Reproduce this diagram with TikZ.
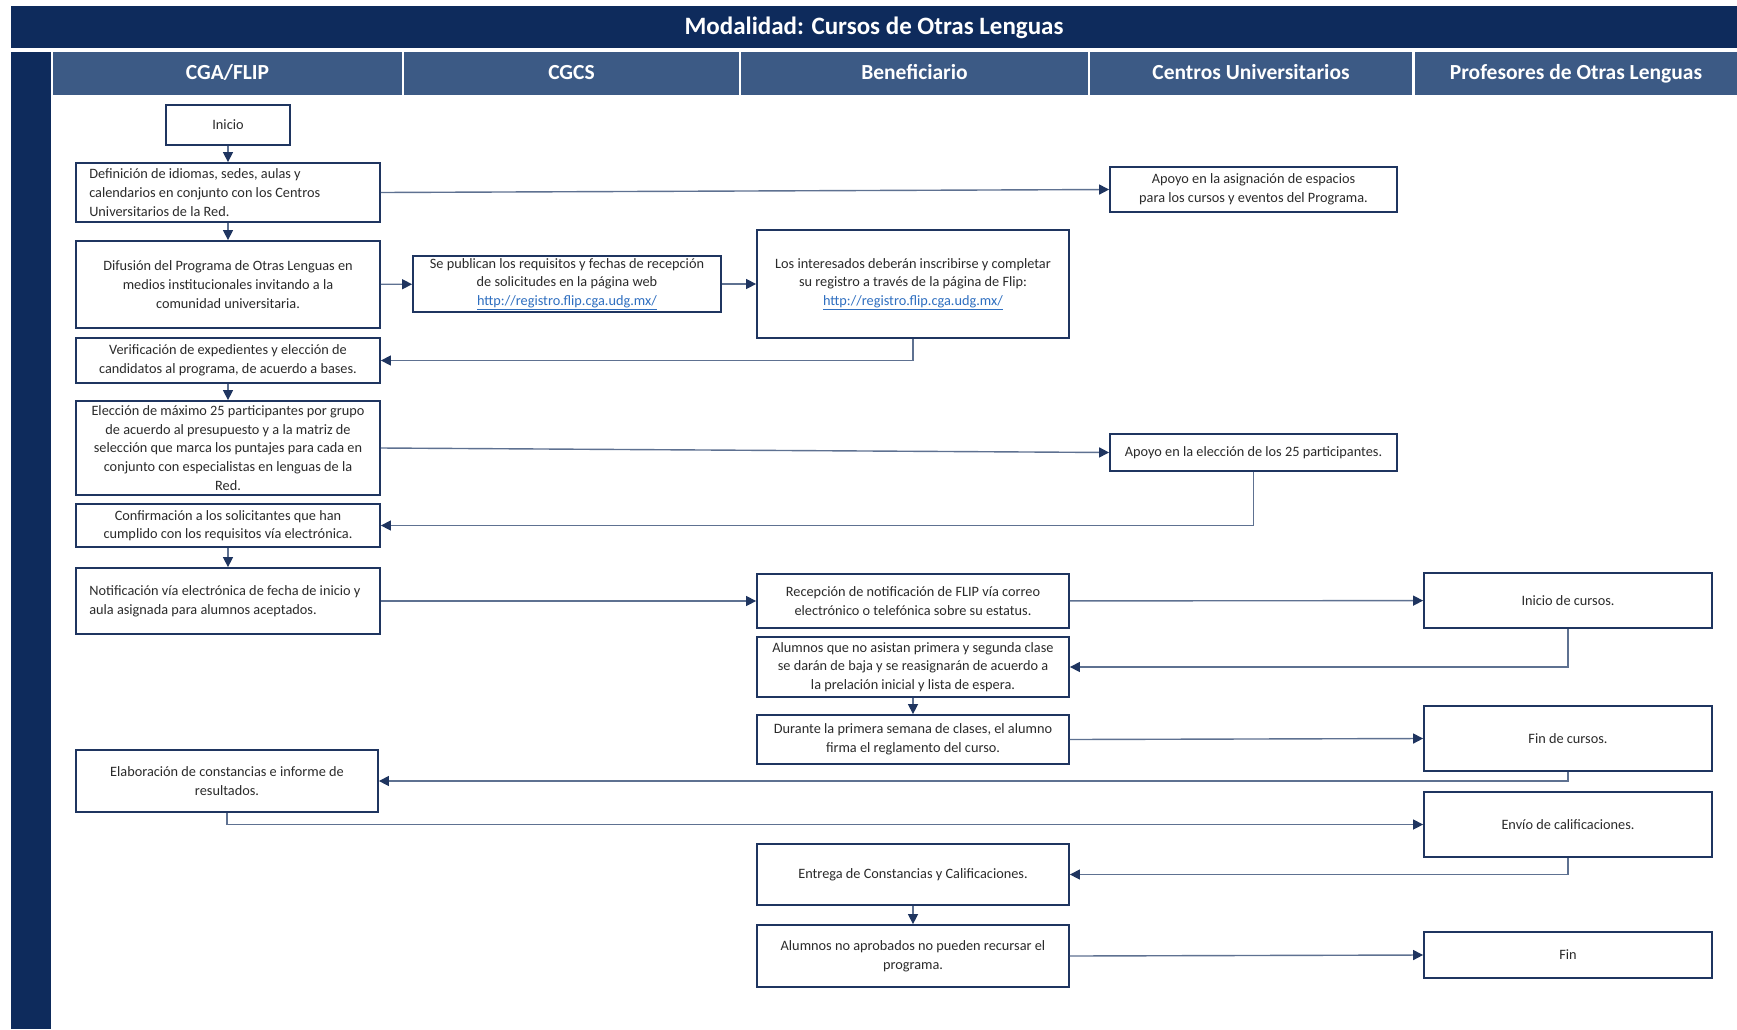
\documentclass[tikz,border=0pt]{standalone}
\usepackage{fontspec}
\setmainfont{Carlito}
\usetikzlibrary{arrows.meta}
\definecolor{navy}{HTML}{0E2B5C}
\definecolor{lanefill}{HTML}{3C5A85}
\definecolor{boxline}{HTML}{1F3560}
\definecolor{wire}{HTML}{5E7191}
\definecolor{ink}{HTML}{2B2B2B}
\definecolor{linkblue}{HTML}{2F6FC0}
\newcommand{\weblink}[1]{\textcolor{linkblue}{\underline{#1}}}
\begin{document}
\begin{tikzpicture}[x=1pt,y=-1pt,
  sz/.style 2 args={minimum width=#1pt, minimum height=#2pt},
  box/.style={draw=boxline, line width=1.8pt, fill=white, inner sep=0pt,
    align=center, text=ink, font=\fontsize{14.3}{18.6}\selectfont},
  boxtext/.style={inner sep=0pt, align=left, text=ink,
    font=\fontsize{14.3}{18.6}\selectfont},
  lane/.style={fill=lanefill, inner sep=0pt, text=white,
    text height=15pt, text depth=4pt,
    font=\fontsize{21.5}{24}\selectfont\bfseries},
  arr/.style={draw=wire, line width=1.4pt,
    -{Triangle[length=10pt,width=10pt,color=boxline]}}
]
% page
\fill[white] (0,0) rectangle (1737,1029);
\useasboundingbox (0,0) rectangle (1737,1029);

% title bar and lane strip
\node[fill=navy, text=white, inner sep=0pt, sz={1726}{42},
  text height=17pt, text depth=3pt,
  font=\fontsize{25}{28}\selectfont\bfseries] (title) at (874,27)
  {Modalidad: Cursos de Otras Lenguas};
\fill[navy] (11,52) rectangle (51,1029);

% lane headers
\node[lane, sz={349}{43}] (h1) at (227.5,73.5) {CGA/FLIP};
\node[lane, sz={335}{43}] (h2) at (571.5,73.5) {CGCS};
\node[lane, sz={347}{43}] (h3) at (914.5,73.5) {Beneficiario};
\node[lane, sz={322}{43}] (h4) at (1251,73.5) {Centros Universitarios};
\node[lane, sz={322}{43}] (h5) at (1576,73.5) {Profesores de Otras Lenguas};

% CGA/FLIP
\node[box, sz={124}{40}] (inicio) at (228,125) {Inicio};
\node[box, sz={304}{59}] (def) at (228,192.5) {};
\node[boxtext, anchor=west] (deftext) at ([xshift=14pt]def.west)
  {Definición de idiomas, sedes, aulas y\\calendarios en conjunto con los Centros\\Universitarios de la Red.};
\node[box, sz={304}{87}] (difu) at (228,284.5)
  {Difusión del Programa de Otras Lenguas en\\medios institucionales invitando a la\\comunidad universitaria.};
\node[box, sz={304}{45}] (verif) at (228,360.5)
  {Verificación de expedientes y elección de\\candidatos al programa, de acuerdo a bases.};
\node[box, sz={304}{94}] (elec) at (228,448)
  {Elección de máximo 25 participantes por grupo\\de acuerdo al presupuesto y a la matriz de\\selección que marca los puntajes para cada en\\conjunto con especialistas en lenguas de la\\Red.};
\node[box, sz={304}{43}] (conf) at (228,525.5)
  {Confirmación a los solicitantes que han\\cumplido con los requisitos vía electrónica.};
\node[box, sz={304}{66}] (notif) at (228,601) {};
\node[boxtext, anchor=west] (notiftext) at ([xshift=14pt]notif.west)
  {Notificación vía electrónica de fecha de inicio y\\aula asignada para alumnos aceptados.};
\node[box, sz={302}{62}] (elab) at (227,781)
  {Elaboración de constancias e informe de\\resultados.};

% CGCS
\node[box, sz={308}{56}] (publi) at (567,284)
  {Se publican los requisitos y fechas de recepción\\de solicitudes en la página web\\\weblink{http://registro.flip.cga.udg.mx/}};

% Beneficiario
\node[box, sz={312}{108}] (inter) at (913,284)
  {Los interesados deberán inscribirse y completar\\su registro a través de la página de Flip:\\\weblink{http://registro.flip.cga.udg.mx/}};
\node[box, sz={312}{54}] (recep) at (913,601)
  {Recepción de notificación de FLIP vía correo\\electrónico o telefónica sobre su estatus.};
\node[box, sz={312}{60}] (bajas) at (913,667)
  {Alumnos que no asistan primera y segunda clase\\se darán de baja y se reasignarán de acuerdo a\\la prelación inicial y lista de espera.};
\node[box, sz={312}{49}] (durante) at (913,739.5)
  {Durante la primera semana de clases, el alumno\\firma el reglamento del curso.};
\node[box, sz={312}{61}] (entrega) at (913,874.5)
  {Entrega de Constancias y Calificaciones.};
\node[box, sz={312}{62}] (noapr) at (913,956)
  {Alumnos no aprobados no pueden recursar el\\programa.};

% Centros Universitarios
\node[box, sz={287}{45}] (apoyo1) at (1253.5,189.5)
  {Apoyo en la asignación de espacios\\para los cursos y eventos del Programa.};
\node[box, sz={287}{37}] (apoyo2) at (1253.5,452.5)
  {Apoyo en la elección de los 25 participantes.};

% Profesores de Otras Lenguas
\node[box, sz={288}{55}] (inicur) at (1568,600.5) {Inicio de cursos.};
\node[box, sz={288}{65}] (fincur) at (1568,738.5) {Fin de cursos.};
\node[box, sz={288}{65}] (envio) at (1568,824.5) {Envío de calificaciones.};
\node[box, sz={288}{46}] (fin) at (1568,955) {Fin};

% connectors
\draw[arr] (inicio) -- (def);
\draw[arr] (def) -- (difu);
\draw[arr] (def.east) -- (apoyo1.west);
\draw[arr] (difu) -- (publi);
\draw[arr] (publi) -- (inter);
\draw[arr] (inter.south) |- (verif.east);
\draw[arr] (verif) -- (elec);
\draw[arr] (elec.east) -- (apoyo2.west);
\draw[arr] (apoyo2.south) |- (conf.east);
\draw[arr] (conf) -- (notif);
\draw[arr] (notif) -- (recep);
\draw[arr] (recep) -- (inicur);
\draw[arr] (inicur.south) |- (bajas.east);
\draw[arr] (bajas) -- (durante);
\draw[arr] (durante.east) -- (fincur.west);
\draw[arr] (fincur.south) |- (elab.east);
\draw[arr] (elab.south) |- (envio.west);
\draw[arr] (envio.south) |- (entrega.east);
\draw[arr] (entrega) -- (noapr);
\draw[arr] (noapr.east) -- (fin.west);
\end{tikzpicture}
\end{document}
